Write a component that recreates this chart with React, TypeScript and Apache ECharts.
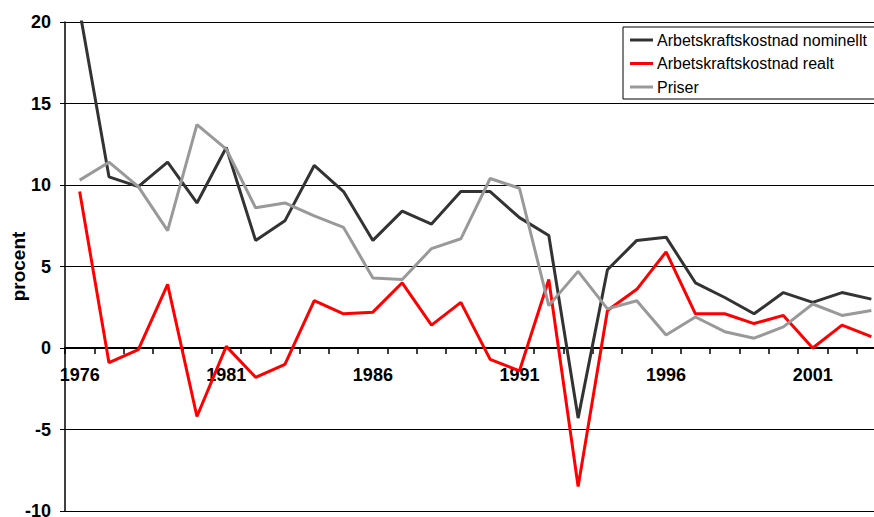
import React, { useEffect, useRef } from "react";
import * as echarts from "echarts";

const years = [
  "1976", "1977", "1978", "1979", "1980", "1981", "1982", "1983", "1984", "1985",
  "1986", "1987", "1988", "1989", "1990", "1991", "1992", "1993", "1994", "1995",
  "1996", "1997", "1998", "1999", "2000", "2001", "2002", "2003",
];

const nominellt = [
  20.7, 10.5, 9.9, 11.4, 8.9, 12.3, 6.6, 7.8, 11.2, 9.6,
  6.6, 8.4, 7.6, 9.6, 9.6, 8.0, 6.9, -4.3, 4.8, 6.6,
  6.8, 4.0, 3.1, 2.1, 3.4, 2.8, 3.4, 3.0,
];

const realt = [
  9.6, -0.9, -0.1, 3.9, -4.2, 0.1, -1.8, -1.0, 2.9, 2.1,
  2.2, 4.0, 1.4, 2.8, -0.7, -1.4, 4.2, -8.5, 2.3, 3.6,
  5.9, 2.1, 2.1, 1.5, 2.0, 0.0, 1.4, 0.7,
];

const priser = [
  10.3, 11.4, 9.9, 7.2, 13.7, 12.2, 8.6, 8.9, 8.1, 7.4,
  4.3, 4.2, 6.1, 6.7, 10.4, 9.8, 2.6, 4.7, 2.4, 2.9,
  0.8, 1.9, 1.0, 0.6, 1.3, 2.7, 2.0, 2.3,
];

const seriesNames = [
  "Arbetskraftskostnad nominellt",
  "Arbetskraftskostnad realt",
  "Priser",
];

const Y_MIN = -10;
const Y_MAX = 20;

const FONT = "'Liberation Sans', Arial, sans-serif";

export default function App() {
  const ref = useRef<HTMLDivElement>(null);

  useEffect(() => {
    if (!ref.current) return;
    const H = 517;
    const gridTop = 22;
    const gridBottom = 6;
    const plotH = H - gridTop - gridBottom;
    // move the category axis (line, ticks, labels) up to the zero line
    const zeroOffset = -plotH * ((0 - Y_MIN) / (Y_MAX - Y_MIN));

    const chart = echarts.init(ref.current, undefined, { renderer: "svg" });
    chart.setOption({
      animation: false,
      backgroundColor: "#ffffff",
      textStyle: { fontFamily: FONT },
      grid: {
        left: 65,
        right: -12,
        top: gridTop,
        bottom: gridBottom,
        containLabel: false,
        outerBoundsMode: "none",
      },
      legend: {
        orient: "vertical",
        left: 623,
        top: 27,
        padding: [5, 8, 4, 7],
        itemGap: 7.5,
        itemWidth: 23,
        itemHeight: 3,
        icon: "rect",
        backgroundColor: "#ffffff",
        borderColor: "#000000",
        borderWidth: 1,
        borderRadius: 0,
        textStyle: { fontSize: 16, color: "#000", fontFamily: FONT, lineHeight: 16, padding: [0, 0, 0, -1] },
        data: seriesNames,
      },
      xAxis: {
        type: "category",
        data: years,
        boundaryGap: true,
        position: "bottom",
        offset: zeroOffset,
        axisLine: { show: true, onZero: false, lineStyle: { color: "#000", width: 2 } },
        axisTick: { show: true, interval: 0, length: 6, lineStyle: { color: "#000", width: 1.5 } },
        axisLabel: {
          interval: 4,
          margin: 18,
          fontSize: 18,
          fontWeight: "bold",
          color: "#000",
          fontFamily: FONT,
        },
        splitLine: { show: false },
      },
      yAxis: {
        type: "value",
        min: Y_MIN,
        max: Y_MAX,
        interval: 5,
        name: "procent",
        nameLocation: "middle",
        nameGap: 37,
        nameMoveOverlap: false,
        nameRotate: 90,
        nameTextStyle: { fontSize: 19, fontWeight: "bold", color: "#000", fontFamily: FONT },
        axisLine: { show: true, lineStyle: { color: "#000", width: 1.5 } },
        axisTick: { show: true, length: 5, lineStyle: { color: "#000", width: 1 } },
        axisLabel: {
          margin: 14,
          fontSize: 18,
          fontWeight: "bold",
          color: "#000",
          fontFamily: FONT,
        },
        splitLine: { show: true, lineStyle: { color: "#000", width: 1 } },
      },
      series: [
        {
          name: seriesNames[0],
          type: "line",
          data: nominellt,
          symbol: "none",
          clip: true,
          lineStyle: { color: "#333333", width: 3 },
          itemStyle: { color: "#333333" },
        },
        {
          name: seriesNames[1],
          type: "line",
          data: realt,
          symbol: "none",
          clip: true,
          lineStyle: { color: "#ff0000", width: 3 },
          itemStyle: { color: "#ff0000" },
        },
        {
          name: seriesNames[2],
          type: "line",
          data: priser,
          symbol: "none",
          clip: true,
          lineStyle: { color: "#999999", width: 3 },
          itemStyle: { color: "#999999" },
        },
      ],
    });
    return () => chart.dispose();
  }, []);

  return (
    <div
      ref={ref}
      style={{ position: "fixed", left: 0, top: 0, width: 874, height: 517 }}
    />
  );
}
